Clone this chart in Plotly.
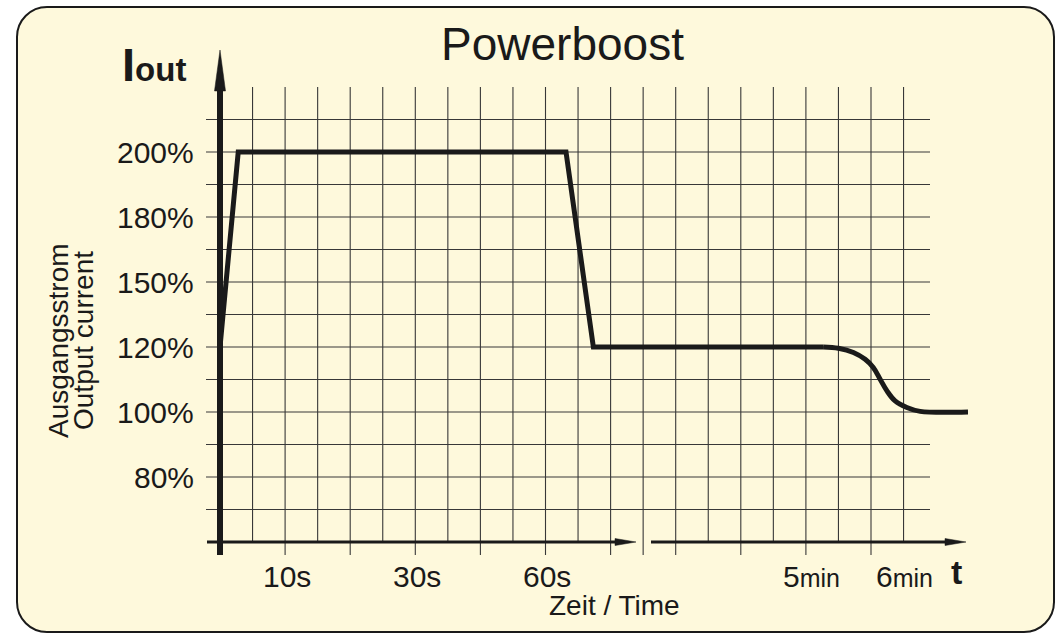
import numpy as np
import plotly.graph_objects as go

# ---------------- data ----------------
# time axis is schematic: positions are in grid cells from the current axis
time_pos = [0, 0.56, 10.63, 11.47, 18.53]
current_pct = [120, 200, 200, 120, 120]
# smooth transition from 120 % down to 100 %
curve_time_pos = [18.53, 19.0, 19.46, 19.82, 20.07, 20.28, 20.49, 20.74, 21.10, 21.51, 22.98]
curve_pct = [120, 119.6, 118.3, 116.2, 113.7, 110.1, 106.5, 103.4, 101.4, 100.2, 100]

y_tick_pct = [80, 100, 120, 150, 180, 200]
y_tick_pos = [2, 4, 6, 8, 10, 12]
y_tick_text = ["80%", "100%", "120%", "150%", "180%", "200%"]

x_tick_pos = [2.05, 6.05, 10.04, 18.16, 21.03]
x_tick_text = ["10s", "30s", "60s", "5<span style='font-size:25px'>min</span>",
               "6<span style='font-size:25px'>min</span>"]

title_text = "Powerboost"
y_title_de = "Ausgangsstrom"
y_title_en = "Output current"
x_title = "Zeit / Time"

# ---------------- geometry helpers ----------------
W, H = 1056, 633
X0, Y0, UX, UY = 220, 542, 32.55, 32.5


def X(px):
    return (px - X0) / UX


def Y(py):
    return (Y0 - py) / UY


def P(px, py):
    return px / W, 1 - py / H


FONT = "Liberation Sans, Arial, Helvetica, sans-serif"
INK = "#1a1a1a"
GRID = "#383838"
BG = "#FEF9DC"

fig = go.Figure()

# ---------------- grid ----------------
gx, gy = [], []
for k in range(1, 14):
    gx += [X(206), X(930), None]
    gy += [k, k, None]
for k in range(1, 22):
    gx += [k, k, None]
    gy += [0, Y(87), None]
long_ticks = [2, 4, 6, 8, 10, 12, 13, 14, 16, 18, 20]
for k in long_ticks:
    gx += [k, k, None]
    gy += [Y(555), 0, None]
fig.add_trace(go.Scatter(x=gx, y=gy, mode="lines", hoverinfo="skip",
                         line=dict(color=GRID, width=1.1), showlegend=False))

# ---------------- data line ----------------
y_vals = np.interp(current_pct, y_tick_pct, y_tick_pos)
fig.add_trace(go.Scatter(x=time_pos, y=y_vals, mode="lines", hoverinfo="skip",
                         line=dict(color=INK, width=5), showlegend=False,
                         cliponaxis=False))
y_curve = np.interp(curve_pct, y_tick_pct, y_tick_pos)
fig.add_trace(go.Scatter(x=curve_time_pos, y=y_curve, mode="lines", hoverinfo="skip",
                         line=dict(color=INK, width=5, shape="spline", smoothing=1),
                         showlegend=False, cliponaxis=False))

shapes = []
# rounded frame
fx0, fy0, fx1, fy1, r = 17, 7, 1054, 632, 30
k = 0.5523 * r
pts = [
    ("M", (fx0 + r, fy0)),
    ("L", (fx1 - r, fy0)),
    ("C", (fx1 - r + k, fy0), (fx1, fy0 + r - k), (fx1, fy0 + r)),
    ("L", (fx1, fy1 - r)),
    ("C", (fx1, fy1 - r + k), (fx1 - r + k, fy1), (fx1 - r, fy1)),
    ("L", (fx0 + r, fy1)),
    ("C", (fx0 + r - k, fy1), (fx0, fy1 - r + k), (fx0, fy1 - r)),
    ("L", (fx0, fy0 + r)),
    ("C", (fx0, fy0 + r - k), (fx0 + r - k, fy0), (fx0 + r, fy0)),
]
path = ""
for cmd, *cs in pts:
    path += cmd + " ".join("%.5f,%.5f" % P(*c) for c in cs) + " "
path += "Z"
shapes.append(dict(type="path", path=path, xref="paper", yref="paper",
                   fillcolor=BG, line=dict(color=INK, width=2), layer="below"))

# current axis (vertical) with arrow
shapes.append(dict(type="line", xref="x", yref="y", x0=0, x1=0, y0=Y(555), y1=Y(88),
                   line=dict(color=INK, width=6), layer="above"))
shapes.append(dict(type="path", xref="x", yref="y",
                   path="M %f,%f L %f,%f L %f,%f Z" % (X(214.5), Y(91), X(220), Y(50), X(225.5), Y(91)),
                   fillcolor=INK, line=dict(color=INK, width=0.5), layer="above"))
# time axis, two segments with arrows
for a, tip in [(207, 636), (651, 966)]:
    base = tip - 21
    shapes.append(dict(type="line", xref="x", yref="y", x0=X(a), x1=X(base + 2), y0=0, y1=0,
                       line=dict(color=INK, width=3), layer="above"))
    shapes.append(dict(type="path", xref="x", yref="y",
                       path="M %f,%f L %f,%f L %f,%f Z" % (X(base), Y(538.5), X(tip), 0, X(base), Y(545.5)),
                       fillcolor=INK, line=dict(color=INK, width=0.5), layer="above"))

ann = []
ann.append(dict(x=X(562), y=Y(44), text=title_text, showarrow=False,
                font=dict(family=FONT, size=46, color=INK), xanchor="center", yanchor="middle"))
ann.append(dict(x=X(120), y=Y(64), text="<b>I<span style='font-size:33px'>out</span></b>",
                showarrow=False, font=dict(family=FONT, size=47, color=INK),
                xanchor="left", yanchor="middle"))
for v, t in zip(y_tick_pos, y_tick_text):
    ann.append(dict(x=X(196), y=v, text=t, showarrow=False,
                    font=dict(family=FONT, size=30, color=INK), xanchor="right", yanchor="middle"))
for u, t in zip(x_tick_pos, x_tick_text):
    ann.append(dict(x=u, y=Y(576), text=t, showarrow=False,
                    font=dict(family=FONT, size=30, color=INK), xanchor="center", yanchor="middle"))
ann.append(dict(x=X(956), y=Y(572), text="<b>t</b>", showarrow=False,
                font=dict(family=FONT, size=34, color=INK), xanchor="center", yanchor="middle"))
ann.append(dict(x=X(614), y=Y(605), text=x_title, showarrow=False,
                font=dict(family=FONT, size=28, color=INK), xanchor="center", yanchor="middle"))
ann.append(dict(x=X(58), y=Y(341), text=y_title_de, showarrow=False, textangle=-90,
                font=dict(family=FONT, size=28, color=INK), xanchor="center", yanchor="middle"))
ann.append(dict(x=X(83), y=Y(341), text=y_title_en, showarrow=False, textangle=-90,
                font=dict(family=FONT, size=28, color=INK), xanchor="center", yanchor="middle"))

fig.update_layout(
    width=W, height=H,
    margin=dict(l=0, r=0, t=0, b=0, pad=0),
    paper_bgcolor="white", plot_bgcolor="rgba(0,0,0,0)",
    xaxis=dict(range=[X(0), X(W)], visible=False, fixedrange=True),
    yaxis=dict(range=[Y(H), Y(0)], visible=False, fixedrange=True),
    shapes=shapes, annotations=ann, showlegend=False,
)

fig.write_html("out.html", config={"displayModeBar": False},
               post_script="document.body.style.margin='0';document.body.style.overflow='hidden';")
